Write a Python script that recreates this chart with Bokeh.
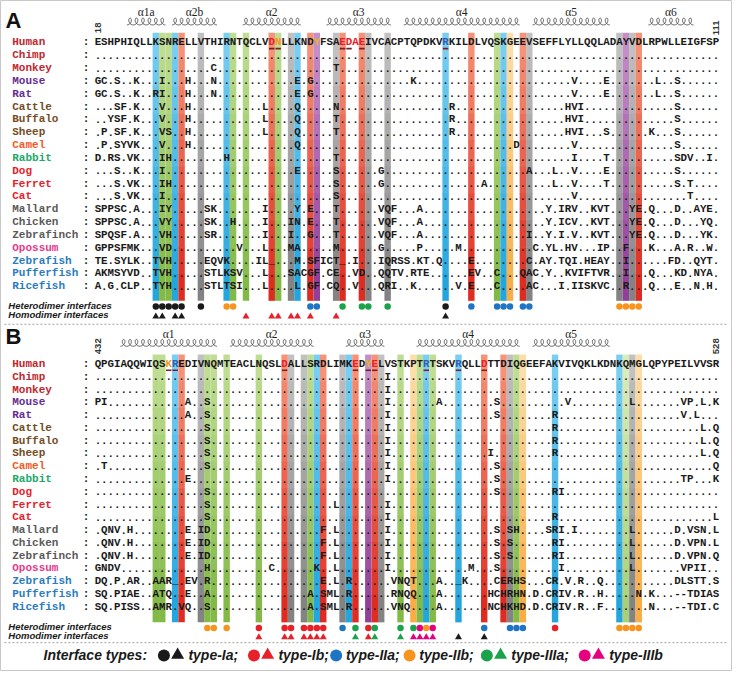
import math
import numpy as np
from bokeh.plotting import figure
from bokeh.models import Range1d, ColumnDataSource
from bokeh.core.properties import value
from bokeh.embed import file_html
from bokeh.resources import INLINE

# ---------------- data ----------------
N_COLS = 97
SPECIES = ["Human", "Chimp", "Monkey", "Mouse", "Rat", "Cattle", "Buffalo", "Sheep", "Camel",
           "Rabbit", "Dog", "Ferret", "Cat", "Mallard", "Chicken", "Zebrafinch", "Opossum",
           "Zebrafish", "Pufferfish", "Ricefish"]
SPECIES_COLORS = ["#C1272D", "#C1272D", "#C1272D", "#662D91", "#662D91", "#754C24", "#754C24",
                  "#754C24", "#F15A24", "#22A86B", "#E8202A", "#E8202A", "#E8202A", "#5A5A5A",
                  "#5A5A5A", "#5A5A5A", "#E5398B", "#2B7BC0", "#2B7BC0", "#2B7BC0"]

HUMAN_A = "ESHPHIQLLKSNRELLVTHIRNTQCLVDNLLKNDYFSAEDAEIVCACPTQPDKVRKILDLVQSKGEEVSEFFLYLLQQLADAYVDLRPWLLEIGFSP"
HUMAN_B = "QPGIAQQWIQSKREDIVNQMTEACLNQSLDALLSRDLIMKEDYELVSTKPTRTSKVRQLLDTTDIQGEEFAKVIVQKLKDNKQMGLQPYPEILVVSR"
NUM_A = ("18", "111")
NUM_B = ("432", "528")

HEADER_COLORS_A = {27: "red", 28: "orange", 34: "gold", 38: "red", 39: "red", 40: "red", 41: "red", 54: "blue"}
UNDERLINE_A = [27, 28, 38, 39, 41, 54]
HEADER_COLORS_B = {11: "orange", 12: "blue", 29: "red", 40: "red", 42: "gold", 43: "red",
                   51: "blue", 56: "blue", 60: "red"}
UNDERLINE_B = [11, 12, 29, 40, 42, 43, 51, 56, 60]

VAR_A = {
    "Chimp": [],
    "Monkey": [(18, "C"), (37, "T")],
    "Mouse": [(0, "GC.S..K"), (10, "I"), (14, "H"), (18, "N"), (31, "E"), (33, "G"), (49, "K"),
              (74, "V"), (79, "E"), (87, "L"), (90, "S")],
    "Rat": [(0, "GC.S..K"), (9, "RI"), (14, "H"), (18, "N"), (31, "E"), (33, "G"),
            (74, "V"), (79, "E"), (87, "L"), (90, "S")],
    "Cattle": [(3, "SF.K"), (10, "V"), (14, "H"), (26, "L"), (31, "Q"), (37, "N"), (55, "R"),
               (73, "HVI"), (90, "S")],
    "Buffalo": [(2, "YSF.K"), (10, "V"), (14, "H"), (26, "L"), (31, "Q"), (37, "T"), (55, "R"),
                (73, "HVI"), (90, "S")],
    "Sheep": [(1, "P.SF.K"), (10, "VS"), (14, "H"), (26, "L"), (31, "Q"), (37, "T"), (55, "R"),
              (73, "HVI"), (79, "S"), (86, "K"), (90, "S")],
    "Camel": [(1, "P.SYVK"), (10, "V"), (14, "H"), (31, "Q"), (65, "D"), (74, "V"), (90, "S")],
    "Rabbit": [(0, "D.RS.VK"), (10, "IH"), (20, "H"), (37, "T"), (74, "I"), (79, "T"), (90, "SDV..I")],
    "Dog": [(3, "S..K"), (10, "I"), (31, "E"), (37, "S"), (44, "G"), (67, "A"), (71, "L"),
            (74, "V"), (79, "E"), (90, "S")],
    "Ferret": [(3, "S.VK"), (10, "IH"), (37, "S"), (44, "G"), (60, "A"), (71, "L"), (74, "V"),
               (79, "T"), (90, "S.T")],
    "Cat": [(3, "S.VK"), (10, "I"), (37, "S"), (74, "V"), (92, "T")],
    "Mallard": [(0, "SPPSC.A"), (10, "IY"), (17, "SK"), (26, "I"), (31, "Y"), (33, "E"), (37, "T"),
                (44, "VQF"), (50, "A"), (70, "Y.IRV..KVT"), (83, "YE.Q"), (90, "D..AYE")],
    "Chicken": [(0, "SPPSC.A"), (10, "VY"), (17, "SK..H"), (26, "I"), (30, "IN"), (33, "E"), (37, "T"),
                (44, "VQF"), (50, "A"), (70, "Y.ICV..KVT"), (83, "YE.Q"), (90, "D...YQ")],
    "Zebrafinch": [(0, "SPQSF.A"), (10, "VH"), (17, "SR"), (26, "I"), (30, "I"), (33, "G"), (37, "T"),
                   (44, "VQF"), (50, "A"), (67, "I"), (70, "Y.I.V..KVT"), (83, "YE.Q"), (90, "D...YK")],
    "Opossum": [(0, "GPPSFMK"), (10, "VD"), (22, "V"), (26, "L"), (30, "MA"), (37, "M"), (44, "G"),
                (50, "P"), (56, "M"), (68, "C.YL.HV"), (78, "IP"), (82, "F"), (86, "K"),
                (90, "A.R"), (95, "W")],
    "Zebrafish": [(0, "TE.SYLK"), (9, "TVH"), (17, "EQVK"), (25, "IL_"), (31, "M.SFICT_.I"),
                  (44, "IQRSS.KT.Q"), (58, "E"), (67, "C.AY.TQI.HEAY"), (82, "I"), (89, "FD"),
                  (93, "QYT")],
    "Pufferfish": [(0, "AKMSYVD"), (9, "TVH"), (17, "STLKSV"), (26, "L"), (30, "SACGF.CE"),
                   (40, "VD"), (44, "QQTV.RTE"), (58, "EV"), (62, "C"), (66, "QAC.Y"),
                   (73, "KVIFTVR"), (82, "I"), (86, "Q"), (90, "KD.NYA")],
    "Ricefish": [(0, "A.G.CLP"), (9, "TYH"), (17, "STLTSI"), (26, "L"), (31, "L.GF.CQ"), (40, "V"),
                 (44, "QRI..K"), (56, "V.E"), (62, "C"), (67, "AC"), (72, "I.IISKVC"), (82, "R"),
                 (86, "Q"), (90, "E..N.H")],
}

VAR_B = {
    "Chimp": [(45, "I")],
    "Monkey": [(45, "I")],
    "Mouse": [(0, "PI"), (14, "A"), (17, "S"), (45, "I"), (53, "A"), (62, "S"), (73, "V"),
              (83, "L"), (91, "VP.L.K")],
    "Rat": [(14, "A"), (17, "S"), (45, "I"), (62, "S"), (71, "R"), (91, "V.L")],
    "Cattle": [(17, "S"), (45, "I"), (71, "R"), (94, "L.Q")],
    "Buffalo": [(17, "S"), (45, "I"), (71, "R"), (94, "L.Q")],
    "Sheep": [(17, "S"), (45, "I"), (61, "I"), (71, "R"), (94, "L.Q")],
    "Camel": [(1, "T"), (17, "S"), (45, "I"), (62, "S"), (96, "Q")],
    "Rabbit": [(14, "E"), (45, "I"), (62, "S"), (91, "TP...K")],
    "Dog": [(17, "S"), (62, "S"), (71, "RI")],
    "Ferret": [(17, "S"), (37, "L"), (45, "I")],
    "Cat": [(17, "S"), (45, "I"), (71, "R"), (96, "L")],
    "Mallard": [(1, "QNV.H"), (14, "E.ID"), (35, "F.L"), (45, "I"), (62, "S.SH"), (70, "SRI.I"),
                (83, "L"), (90, "D.VSN.L")],
    "Chicken": [(1, "QNV.H"), (14, "E.ID"), (35, "F.L"), (45, "I"), (62, "S.S"), (71, "RI"),
                (83, "L"), (90, "D.VPN.L")],
    "Zebrafinch": [(1, "QNV.H"), (14, "E.ID"), (35, "F.L"), (45, "I"), (62, "S.S"), (71, "RI"),
                   (83, "L"), (90, "D.VPN.Q")],
    "Opossum": [(0, "GNDV"), (17, "H"), (27, "C"), (34, "K"), (37, "L"), (45, "I"), (58, "M"),
                (62, "S"), (72, "I"), (83, "L"), (91, "VPII")],
    "Zebrafish": [(0, "DQ.P.AR"), (9, "AAR_.EV.R"), (35, "E.L.R"), (46, "VNQT"), (53, "A"),
                  (56, "_K"), (62, "CERHS"), (70, "CR.V.R"), (78, "Q"), (90, "DLSTT.S")],
    "Pufferfish": [(0, "SQ.PIAE"), (9, "ATQ..E..A"), (33, "A.SML.R"), (46, "RNQQ"), (53, "A"),
                   (61, "HCHRHN.D"), (70, "CRIV.R"), (78, "H"), (84, "N.K"), (90, "--TDIAS")],
    "Ricefish": [(0, "SQ.PISS"), (9, "AMR.VQ"), (17, "S"), (33, "A.SML.R"), (46, "VNQ"), (53, "A"),
                 (61, "NCHKHD.D"), (70, "CRIV.R"), (78, "F"), (86, "N"), (90, "--TDI.C")],
}

BANDS_A = [(9, "blue"), (10, "green"), (11, "green"), (12, "blue"), (13, "red"), (16, "gray"),
           (20, "blue"), (21, "green"), (23, "green"), (27, "red"), (28, "green"), (30, "gray"),
           (31, "blue"), (33, "red"), (34, "purple"), (37, "gray"), (38, "red"), (41, "red"),
           (42, "gray"), (45, "gray"), (54, "blue"), (58, "red"), (62, "green"), (63, "blue"),
           (64, "orange"), (66, "red"), (67, "gray"), (81, "gray"), (82, "purple"), (83, "gray"),
           (84, "red")]
BANDS_B = [(9, "green"), (10, "green"), (12, "blue"), (13, "red"), (16, "gray"), (17, "green"),
           (18, "green"), (20, "green"), (25, "green"), (29, "red"), (30, "gray"), (32, "gray"),
           (33, "green"), (34, "blue"), (35, "red"), (38, "gray"), (39, "blue"), (40, "red"),
           (42, "purple"), (43, "red"), (44, "gray"), (47, "green"), (49, "orange"), (50, "green"),
           (51, "blue"), (52, "green"), (56, "blue"), (60, "red"), (63, "red"), (64, "gray"),
           (65, "green"), (66, "orange"), (71, "blue"), (81, "blue"), (82, "lightgreen"),
           (83, "gray"), (84, "orange")]

HELIX_A = [("α1a", 5, 10), ("α2b", 12, 18), ("α2", 23, 31), ("α3", 36, 45), ("α4", 48, 65),
           ("α5", 68, 79), ("α6", 86, 92)]
HELIX_B = [("α1", 4, 18), ("α2", 21, 33), ("α3", 39, 44), ("α4", 50, 65), ("α5", 68, 79)]

HET_A = {"Ia": [9, 10, 11, 12, 13, 16, 54], "IIb": [20, 21, 81, 82, 83, 84],
         "IIa": [33, 34, 58, 62, 63, 64, 66, 67], "IIIa": [38, 41, 42, 45]}
HOM_A = {"Ia": [9, 10, 12, 13, 54], "Ib": [23, 27, 28, 30, 31, 33, 37]}
HET_B = {"IIb": [17, 18, 20, 51, 81, 82, 83, 84], "Ib": [25, 29, 30, 32, 33, 34, 35, 42, 71],
         "IIa": [38, 60, 64, 65, 66], "IIIa": [40, 43, 47, 49], "IIIb": [50, 52]}
HOM_B = {"Ib": [25, 29, 30, 32, 33, 34, 35, 42], "IIIa": [40, 43, 47], "IIIb": [49, 50, 51, 52],
         "Ia": [56, 60]}

LEGEND_TYPES = ["Ia", "Ib", "IIa", "IIb", "IIIa", "IIIb"]
LEGEND_LABELS = ["type-Ia;", "type-Ib;", "type-IIa;", "type-IIb;", "type-IIIa;", "type-IIIb"]
LEGEND_TRIANGLE = [True, True, False, False, True, True]

# ---------------- styles ----------------
TYPE_COLORS = {"Ia": "#1A1A1A", "Ib": "#E8202A", "IIa": "#1F75C4", "IIb": "#F7941D",
               "IIIa": "#1AA34A", "IIIb": "#E6007E"}
TEXT_COLORS = {"red": "#E8202A", "orange": "#F7941D", "gold": "#E8B90F", "blue": "#2E5FB4"}
BAND_COLORS = {"blue": ("#7FD0F2", "#1EA3DC"), "green": ("#C2DF97", "#80B743"),
               "red": ("#F6987C", "#DD261C"), "gray": ("#C4C4C4", "#808080"),
               "purple": ("#C792C9", "#8E3B95"), "orange": ("#FDE0AE", "#F8AA40"),
               "lightgreen": ("#DCEDC0", "#A5CF72")}

X0, CW = 99.5, 6.58
PANEL_A = dict(row0=43.0, dy=13.13, btop=33.0, bbot=307.5, hy=21.5, hly=12.0, numy=28.0,
               hety=313.3, homy=323.5, lety=20.0, sepy=331.5)
PANEL_B = dict(row0=372.3, dy=13.07, btop=362.5, bbot=636.7, hy=350.5, hly=341.0, numy=354.0,
               hety=642.5, homy=652.0, lety=344.0, sepy=657.5)
MONO = value("Liberation Mono")
SANS = value("Liberation Sans")
SERIF = value("Liberation Serif")


def colx(c):
    return X0 + c * CW


def hex2rgb(h):
    return tuple(int(h[i:i + 2], 16) for i in (1, 3, 5))


def mix(a, b, t):
    ra, rb = hex2rgb(a), hex2rgb(b)
    return "#%02x%02x%02x" % tuple(int(round(ra[k] + (rb[k] - ra[k]) * t)) for k in range(3))


p = figure(width=732, height=671, x_range=Range1d(0, 748), y_range=Range1d(687, 0),
           output_backend="svg", toolbar_location=None, min_border=0,
           x_axis_location=None, y_axis_location=None, background_fill_color="white",
           border_fill_color="white")
p.grid.visible = False
p.outline_line_color = "#C8C8C8"


def draw_panel(P, letter, human, header_colors, underline, variants, bands, helices, nums, het, hom):
    nseg = 10
    L, R, T, B, C = [], [], [], [], []
    for col, kind in bands:
        ctop, cbot = BAND_COLORS[kind]
        for s in range(nseg):
            t0 = P["btop"] + (P["bbot"] - P["btop"]) * s / nseg
            t1 = P["btop"] + (P["bbot"] - P["btop"]) * (s + 1) / nseg + 0.6
            L.append(colx(col) - CW / 2)
            R.append(colx(col) + CW / 2)
            T.append(t0)
            B.append(min(t1, P["bbot"]))
            C.append(mix(ctop, cbot, (s + 0.5) / nseg))
    p.quad(left=L, right=R, top=T, bottom=B, fill_color=C, line_color=None)

    xs, ys, ts, cs = [], [], [], []
    for r, sp in enumerate(SPECIES):
        y = P["row0"] + r * P["dy"]
        if r == 0:
            row = list(human[:N_COLS].ljust(N_COLS, "."))
        else:
            row = ["."] * N_COLS
            for start, seg in variants.get(sp, []):
                for k, ch in enumerate(seg):
                    if start + k < N_COLS:
                        row[start + k] = ch
        for c, ch in enumerate(row):
            xs.append(colx(c))
            ys.append(y)
            ts.append(ch)
            col = "#1A1A1A"
            if r == 0 and c in header_colors:
                col = TEXT_COLORS[header_colors[c]]
            cs.append(col)
    src = ColumnDataSource(dict(x=xs, y=ys, t=ts, c=cs))
    p.text(x="x", y="y", text="t", text_color="c", source=src, text_font=MONO,
           text_font_style="bold", text_font_size="10.8px", text_align="center",
           text_baseline="middle")

    y_ul = P["row0"] + 6.3
    p.segment(x0=[colx(c) - CW / 2 + 0.5 for c in underline], x1=[colx(c) + CW / 2 - 0.5 for c in underline],
              y0=[y_ul] * len(underline), y1=[y_ul] * len(underline), line_color="#7A1E2A",
              line_width=1.6)

    ly = [P["row0"] + r * P["dy"] for r in range(len(SPECIES))]
    p.text(x=[12] * len(SPECIES), y=ly, text=SPECIES, text_color=SPECIES_COLORS, text_font=MONO,
           text_font_style="bold", text_font_size="11px", text_align="left", text_baseline="middle")
    p.text(x=[87.5] * len(SPECIES), y=ly, text=[":"] * len(SPECIES), text_color="#1A1A1A",
           text_font=MONO, text_font_style="bold", text_font_size="11px", text_align="center",
           text_baseline="middle")

    hx, hy = [], []
    for lab, c0, c1 in helices:
        xs0, xs1 = colx(c0) - CW / 2, colx(c1) + CW / 2
        n = c1 - c0 + 1
        pitch = (xs1 - xs0) / n
        tt = np.linspace(0, 2 * np.pi * n, 40 * n + 1)
        hx.append(list(xs0 + pitch * tt / (2 * np.pi) + 2.8 * np.sin(tt)))
        hy.append(list(P["hy"] + 3.5 * np.cos(tt)))
    p.multi_line(xs=hx, ys=hy, line_color="#3A3A3A", line_width=0.8)
    p.text(x=[(colx(c0) + colx(c1)) / 2 for _, c0, c1 in helices], y=[P["hly"]] * len(helices),
           text=[h[0] for h in helices], text_font=SERIF, text_font_size="11.5px",
           text_color="#222222", text_align="center", text_baseline="middle")

    p.text(x=[colx(0), colx(N_COLS - 1)], y=[P["numy"]] * 2, text=list(nums), angle=math.pi / 2,
           text_font=SANS, text_font_style="bold", text_font_size="9.5px", text_color="#333333",
           text_align="center", text_baseline="middle")

    p.text(x=[5], y=[P["lety"]], text=[letter], text_font=SANS, text_font_style="bold",
           text_font_size="22px", text_color="#111111", text_align="left", text_baseline="middle")

    p.text(x=[8, 8], y=[P["hety"] - 1.2, P["homy"] - 1.8],
           text=["Heterodimer interfaces", "Homodimer interfaces"], text_font=SANS,
           text_font_style="bold italic", text_font_size="9.5px", text_color="#1A1A1A",
           text_align="left", text_baseline="middle")
    for typ, cols in het.items():
        p.scatter(x=[colx(c) for c in cols], y=[P["hety"]] * len(cols), marker="circle", size=6.5,
                  fill_color=TYPE_COLORS[typ], line_color=None)
    for typ, cols in hom.items():
        p.scatter(x=[colx(c) for c in cols], y=[P["homy"]] * len(cols), marker="triangle", size=7,
                  fill_color=TYPE_COLORS[typ], line_color=None)

    p.segment(x0=[4], x1=[744], y0=[P["sepy"]], y1=[P["sepy"]], line_color="#A0A0A0",
              line_width=1, line_dash="2 2")


draw_panel(PANEL_A, "A", HUMAN_A, HEADER_COLORS_A, UNDERLINE_A, VAR_A, BANDS_A, HELIX_A, NUM_A, HET_A, HOM_A)
draw_panel(PANEL_B, "B", HUMAN_B, HEADER_COLORS_B, UNDERLINE_B, VAR_B, BANDS_B, HELIX_B, NUM_B, HET_B, HOM_B)

# ---------------- legend ----------------
LEG_Y = 670.5
leg_circle_x = [167, 259, 343, 418, 497, 597]
leg_tri_x = [181, 273, None, None, 511, 611]
leg_text_x = [192, 284, 353, 428, 522, 622]
p.text(x=[44], y=[LEG_Y], text=["Interface types:"], text_font=SANS, text_font_style="bold italic",
       text_font_size="14px", text_color="#1A1A1A", text_align="left", text_baseline="middle")
for i, typ in enumerate(LEGEND_TYPES):
    p.scatter(x=[leg_circle_x[i]], y=[LEG_Y], marker="circle", size=12,
              fill_color=TYPE_COLORS[typ], line_color=None)
    if LEGEND_TRIANGLE[i]:
        p.scatter(x=[leg_tri_x[i]], y=[LEG_Y - 0.5], marker="triangle", size=13,
                  fill_color=TYPE_COLORS[typ], line_color=None)
p.text(x=leg_text_x, y=[LEG_Y] * len(LEGEND_LABELS), text=LEGEND_LABELS, text_font=SANS,
       text_font_style="bold italic", text_font_size="14px", text_color="#1A1A1A",
       text_align="left", text_baseline="middle")

open("out.html", "w").write(file_html(p, INLINE))
